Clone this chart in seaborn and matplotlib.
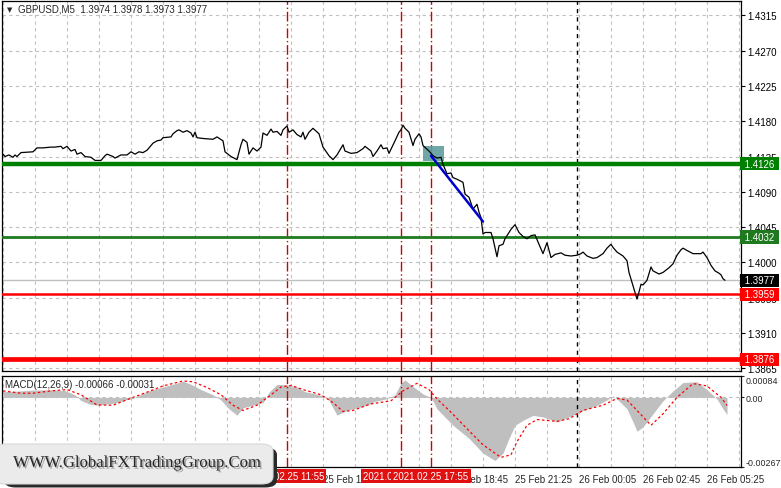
import matplotlib
matplotlib.use("Agg")
import matplotlib.pyplot as plt
import matplotlib.transforms as mtransforms
import matplotlib.patheffects as pe
from matplotlib.patches import FancyBboxPatch, Rectangle
import pandas as pd
import seaborn as sns

# M5 bars, bar 0 = 2021.02.25 00:00
price_bars = [
    1, 2, 4, 6, 7, 8, 10, 16, 18, 21, 25, 27, 30, 31, 33, 35, 37, 38, 40, 42,
    45, 47, 50, 52, 53, 56, 57, 60, 63, 65, 67, 69, 71, 73, 76, 78, 80, 81, 85, 86,
    88, 89, 91, 93, 95, 96, 97, 98, 101, 106, 108, 111, 112, 115, 118, 120, 121, 123, 124, 126,
    128, 130, 131, 133, 135, 136, 138, 140, 141, 143, 144, 146, 148, 150, 151, 152, 154, 156, 159, 161,
    164, 166, 168, 171, 172, 175, 178, 181, 182, 185, 186, 188, 190, 191, 193, 194, 197, 199, 200, 201,
    202, 204, 206, 207, 209, 210, 211, 214, 216, 218, 220, 221, 223, 225, 226, 228, 231, 232, 234, 236,
    238, 239, 240, 241, 242, 245, 246, 248, 249, 251, 252, 255, 257, 259, 261, 263, 265, 267, 269, 271,
    273, 275, 277, 280, 282, 285, 288, 290, 291, 293, 296, 298, 301, 303, 305, 306, 308, 311, 313, 314,
    316, 318, 319, 320, 321, 323, 325, 326, 329, 331, 334, 336, 338, 340, 341, 343, 346, 350, 351, 353,
    355, 357, 359, 360, 361, 362,
]
price_values = [
    1.4138, 1.4135, 1.4137, 1.4134, 1.4137, 1.4135, 1.4140, 1.4141, 1.4146, 1.4146,
    1.4147, 1.4147, 1.4148, 1.4145, 1.4148, 1.4142, 1.4144, 1.4138, 1.4140, 1.4135,
    1.4134, 1.4130, 1.4130, 1.4136, 1.4138, 1.4135, 1.4133, 1.4137, 1.4137, 1.4141,
    1.4138, 1.4141, 1.4140, 1.4143, 1.4152, 1.4155, 1.4156, 1.4159, 1.4160, 1.4164,
    1.4168, 1.4169, 1.4166, 1.4168, 1.4165, 1.4160, 1.4166, 1.4159, 1.4158, 1.4157,
    1.4160, 1.4155, 1.4141, 1.4135, 1.4131, 1.4150, 1.4157, 1.4153, 1.4138, 1.4146,
    1.4142, 1.4147, 1.4165, 1.4162, 1.4170, 1.4166, 1.4167, 1.4162, 1.4169, 1.4174,
    1.4166, 1.4169, 1.4163, 1.4160, 1.4166, 1.4157, 1.4166, 1.4171, 1.4164, 1.4147,
    1.4136, 1.4131, 1.4137, 1.4150, 1.4142, 1.4139, 1.4140, 1.4145, 1.4148, 1.4142,
    1.4135, 1.4142, 1.4150, 1.4145, 1.4146, 1.4139, 1.4155, 1.4166, 1.4169, 1.4175,
    1.4171, 1.4166, 1.4149, 1.4157, 1.4164, 1.4160, 1.4149, 1.4142, 1.4136, 1.4133,
    1.4134, 1.4125, 1.4113, 1.4114, 1.4108, 1.4106, 1.4102, 1.4087, 1.4083, 1.4068,
    1.4074, 1.4064, 1.4057, 1.4036, 1.4038, 1.4038, 1.4030, 1.4007, 1.4021, 1.4023,
    1.4030, 1.4042, 1.4048, 1.4038, 1.4033, 1.4030, 1.4034, 1.4035, 1.4023, 1.4011,
    1.4025, 1.4006, 1.4010, 1.4012, 1.4009, 1.4008, 1.4009, 1.4011, 1.4013, 1.4008,
    1.4005, 1.4006, 1.4011, 1.4018, 1.4023, 1.4019, 1.4013, 1.4008, 1.4002, 1.3987,
    1.3970, 1.3953, 1.3962, 1.3972, 1.3971, 1.3977, 1.3994, 1.3989, 1.3985, 1.3987,
    1.3993, 1.3998, 1.4009, 1.4016, 1.4018, 1.4015, 1.4011, 1.4011, 1.4013, 1.4006,
    1.3996, 1.3989, 1.3986, 1.3984, 1.3979, 1.3977,
]

# MACD(12,26,9) histogram and signal line
macd_bars = [
    1, 8, 16, 25, 32, 37, 40, 44, 48, 52, 57, 62, 66, 70, 76, 82, 88, 91, 95, 100,
    106, 110, 114, 118, 121, 126, 131, 134, 138, 143, 148, 152, 158, 163, 166, 168, 173, 178, 183, 187,
    193, 197, 200, 202, 206, 211, 215, 218, 226, 234, 241, 247, 251, 254, 257, 261, 266, 271, 278, 284,
    291, 298, 303, 306, 308, 313, 316, 318, 321, 326, 331, 336, 341, 348, 353, 358, 361, 363,
]
macd_values = [
    0.00022, 0.00024, 0.00028, 0.00029, 0.00026, 0.00010, -0.00012, -0.00025, -0.00030, -0.00026,
    -0.00022, -0.00010, -0.00004, 0.00012, 0.00030, 0.00042, 0.00055, 0.00062, 0.00050, 0.00030,
    0.00010, -0.00010, -0.00044, -0.00068, -0.00040, -0.00030, -0.00020, 0.00020, 0.00050, 0.00048,
    0.00040, 0.00022, 0.00012, 0.00002, -0.00040, -0.00068, -0.00050, -0.00040, -0.00030, -0.00015,
    -0.00005, 0.00010, 0.00055, 0.00067, 0.00042, 0.00013, 0.00000, -0.00044, -0.00107, -0.00157,
    -0.00214, -0.00242, -0.00214, -0.00157, -0.00107, -0.00088, -0.00069, -0.00075, -0.00094, -0.00075,
    -0.00050, -0.00030, -0.00010, 0.00006, -0.00006, -0.00044, -0.00094, -0.00130, -0.00113, -0.00063,
    -0.00013, 0.00025, 0.00057, 0.00060, 0.00030, -0.00006, -0.00044, -0.00066,
]
signal_bars = [
    1, 10, 16, 25, 33, 40, 48, 56, 66, 73, 81, 91, 96, 103, 110, 116, 121, 128, 135, 140,
    145, 151, 160, 166, 171, 176, 183, 185, 195, 201, 208, 214, 218, 225, 233, 241, 250, 255, 258, 263,
    268, 278, 284, 291, 301, 308, 313, 318, 325, 331, 338, 346, 353, 360, 363,
]
signal_values = [
    0.00025, 0.00016, 0.00016, 0.00025, 0.00030, 0.00010, -0.00029, -0.00030, 0.00000, 0.00020,
    0.00044, 0.00063, 0.00060, 0.00038, 0.00010, -0.00030, -0.00050, -0.00030, 0.00010, 0.00040,
    0.00046, 0.00030, 0.00010, -0.00020, -0.00054, -0.00050, -0.00030, -0.00025, -0.00013, 0.00025,
    0.00054, 0.00030, -0.00006, -0.00057, -0.00120, -0.00182, -0.00230, -0.00220, -0.00170, -0.00107,
    -0.00085, -0.00092, -0.00082, -0.00050, -0.00030, -0.00004, -0.00010, -0.00050, -0.00107, -0.00063,
    0.00000, 0.00053, 0.00044, 0.00000, -0.00031,
]

# horizontal levels drawn on the chart
level_prices = [1.4126, 1.4032, 1.3959, 1.3876]
level_colors = ["#008000", "#1f7a1f", "#ff0000", "#ff0000"]
level_widths = [3.2, 2.0, 1.8, 3.4]
bid_price = 1.3977

# sell trend line and entry rectangle
trend_bars = [215, 241]
trend_values = [1.4136, 1.4052]
rect_bars = [211, 221.5]
rect_prices = [1.4129, 1.4148]

# vertical time markers
vline_bars = [143, 200, 215]
vline_labels = ["2021.02.25 11:55", "2021.02.25 16:40", "2021.02.25 17:55"]
separator_bar = 288

price_ticks = [1.4315, 1.4270, 1.4225, 1.4180, 1.4135, 1.4090,
               1.4045, 1.4000, 1.3955, 1.3910, 1.3865]
time_tick_bars = [1, 33, 65, 97, 129, 161, 193, 225, 257, 289, 321, 353]
time_tick_labels = ["25 Feb 00:05", "25 Feb 02:45", "25 Feb 05:25", "25 Feb 08:05",
                    "25 Feb 10:45", "25 Feb 13:25", "25 Feb 16:05", "25 Feb 18:45",
                    "25 Feb 21:25", "26 Feb 00:05", "26 Feb 02:45", "26 Feb 05:25"]
macd_ticks = [0.00084, 0.0, -0.00267]
macd_tick_labels = ["0.00084", "0.00", "-0.00267"]

title_text = "GBPUSD,M5  1.3974 1.3978 1.3973 1.3977"
macd_text = "MACD(12,26,9) -0.00066 -0.00031"
watermark_text = "WWW.GlobalFXTradingGroup.Com"


def setup_style():
    sns.set_style("white")
    plt.rcParams["font.family"] = ["Liberation Sans", "DejaVu Sans"]
    plt.rcParams["font.size"] = 7


def draw_grid(ax, with_hlines=True):
    grid_kw = dict(color="#c0c0c0", lw=0.8, ls=(0, (3, 3)), zorder=0.5)
    for b in range(1, 370, 16):
        ax.axvline(b, **grid_kw)
    if with_hlines:
        for p in price_ticks:
            ax.axhline(p, **grid_kw)


def draw_vlines(ax):
    for b in vline_bars:
        ax.axvline(b, color="#d00000", lw=1.0, ls=(0, (7, 2, 1, 2)), zorder=2)
    ax.axvline(separator_bar, color="black", lw=1.0, ls=(0, (3, 3)), zorder=2)


def main():
    setup_style()
    fig = plt.figure(figsize=(7.81, 4.89), dpi=100)
    W, H = 781.0, 489.0

    ax = fig.add_axes([2 / W, 1 - 372 / H, 739 / W, 370 / H])
    ax_m = fig.add_axes([2 / W, 1 - 468 / H, 739 / W, 91.5 / H])

    # --- main price panel ---
    draw_grid(ax)
    draw_vlines(ax)
    ax.add_patch(Rectangle((rect_bars[0], rect_prices[0]), rect_bars[1] - rect_bars[0],
                           rect_prices[1] - rect_prices[0], facecolor="#5f9ea0",
                           edgecolor="none", alpha=0.9, zorder=2.2))
    ax.axhline(bid_price, color="#c0c0c0", lw=1.0, zorder=2.4)
    for p, c, w in zip(level_prices, level_colors, level_widths):
        ax.axhline(p, color=c, lw=w, zorder=3)
    sns.lineplot(x=price_bars, y=price_values, ax=ax, color="black", lw=0.9, zorder=4)
    sns.lineplot(x=trend_bars, y=trend_values, ax=ax, color="#0000cd", lw=1.8, zorder=5)

    ax.set_xlim(0.5, 370)
    ax.set_ylim(1.38612, 1.43335)
    ax.yaxis.tick_right()
    ax.set_yticks(price_ticks)
    ax.set_yticklabels([f"{p:.4f}" for p in price_ticks])
    ax.set_xticks([])
    ax.tick_params(axis="y", length=3, width=0.8, pad=1.5, labelsize=7, colors="black")

    # coloured price tags on the right scale
    tag_tr = mtransforms.blended_transform_factory(ax.transAxes, ax.transData)
    tags = list(zip(level_prices, level_colors)) + [(bid_price, "black")]
    for p, c in tags:
        ax.text(1.0015, p, f" {p:.4f} ", transform=tag_tr, color="white", fontsize=7,
                va="center", ha="left", clip_on=False, zorder=6,
                bbox=dict(boxstyle="square,pad=0.18", fc=c, ec="none"))

    ax.annotate("\u25bc", xy=(0, 1), xycoords="axes fraction", xytext=(5, -8),
                textcoords="offset pixels", fontsize=5, va="center",
                family=["DejaVu Sans"])
    ax.annotate(title_text, xy=(0, 1), xycoords="axes fraction", xytext=(16, -8),
                textcoords="offset pixels", fontsize=7, va="center")

    # --- MACD panel ---
    draw_grid(ax_m, with_hlines=False)
    draw_vlines(ax_m)
    ax_m.axhline(0, color="#c0c0c0", lw=0.8, ls=(0, (3, 3)), zorder=0.6)
    ax_m.fill_between(macd_bars, 0, macd_values, color="#bfbfbf", lw=0, zorder=1.5)
    sns.lineplot(x=signal_bars, y=signal_values, ax=ax_m, color="#ff0000", lw=0.9,
                 ls=(0, (2, 2)), zorder=3)
    ax_m.set_xlim(0.5, 370)
    ax_m.set_ylim(-0.00267, 0.00084)
    ax_m.yaxis.tick_right()
    ax_m.set_yticks(macd_ticks)
    ax_m.set_yticklabels(macd_tick_labels)
    labels = ax_m.get_yticklabels()
    labels[0].set_va("top")
    labels[2].set_va("bottom")
    ax_m.set_xticks(time_tick_bars)
    ax_m.set_xticklabels(time_tick_labels, ha="left")
    ax_m.tick_params(axis="y", length=2, width=0.8, pad=1, labelsize=6.4)
    ax_m.tick_params(axis="x", length=3, width=0.8, pad=2, labelsize=7)
    ax_m.annotate(macd_text, xy=(0, 1), xycoords="axes fraction", xytext=(3, -8),
                  textcoords="offset pixels", fontsize=7, va="center")

    # red time tags under the vertical lines
    vt_tr = mtransforms.blended_transform_factory(ax_m.transData, ax_m.transAxes)
    for b, lab in zip(vline_bars, vline_labels):
        ax_m.text(b, -0.095, lab, transform=vt_tr, color="white", fontsize=7,
                  ha="center", va="center", clip_on=False, zorder=6,
                  bbox=dict(boxstyle="square,pad=0.2", fc="#e01010", ec="none"))

    for a in (ax, ax_m):
        a.set_xlabel("")
        a.set_ylabel("")
        for s in a.spines.values():
            s.set_color("black")
            s.set_linewidth(0.9)

    # watermark box in the lower-left corner
    fig.patches.append(FancyBboxPatch((4 / W, 0.5 / H), 273 / W, 40 / H,
                                      boxstyle="round,pad=0,rounding_size=0.015",
                                      transform=fig.transFigure, fc="#2a2a2a",
                                      ec="none", zorder=5))
    fig.patches.append(FancyBboxPatch((-6 / W, 4 / H), 279 / W, 40 / H,
                                      boxstyle="round,pad=0,rounding_size=0.015",
                                      transform=fig.transFigure, fc="#ebebeb",
                                      ec="#d8d8d8", lw=0.8, zorder=6))
    fig.text(137 / W, 1 - 464 / H, watermark_text, ha="center", va="center",
             fontsize=12, color="#262626", family=["Liberation Serif"], zorder=7,
             path_effects=[pe.withSimplePatchShadow(offset=(1.2, -1.2),
                                                    shadow_rgbFace="#9a9a9a", alpha=0.9)])

    fig.savefig("out.png", dpi=100, facecolor="white")
    plt.close(fig)


if __name__ == "__main__":
    main()
